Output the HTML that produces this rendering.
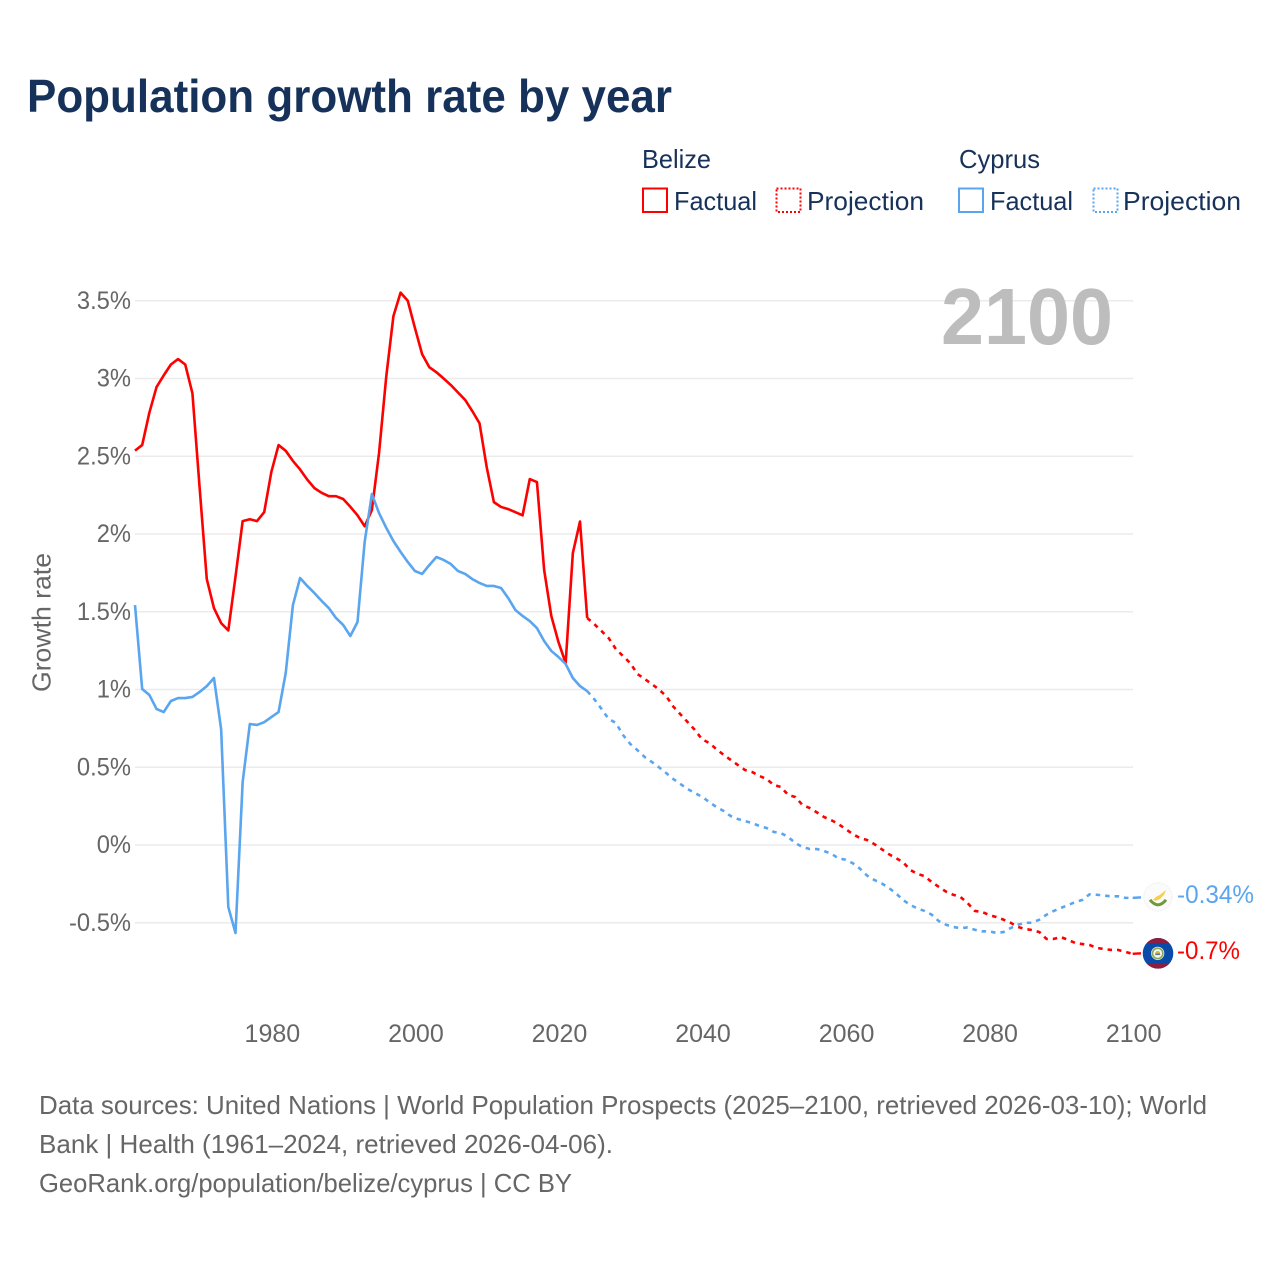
<!DOCTYPE html>
<html lang="en">
<head>
<meta charset="utf-8">
<title>Population growth rate by year</title>
<style>
html,body{margin:0;padding:0;background:#fff;}
svg{display:block;font-family:"Liberation Sans",Arial,sans-serif;}
</style>
</head>
<body>
<svg id="chart" xmlns="http://www.w3.org/2000/svg" width="1280" height="1280" viewBox="0 0 1280 1280">
  <rect x="0" y="0" width="1280" height="1280" fill="#ffffff"/>
  <text x="27" y="112" font-size="46" font-weight="700" fill="#17325a" textLength="645" lengthAdjust="spacingAndGlyphs">Population growth rate by year</text>

  <g font-size="26" fill="#17325a">
    <text x="642" y="168" textLength="69" lengthAdjust="spacingAndGlyphs">Belize</text>
    <text x="959" y="168" textLength="81" lengthAdjust="spacingAndGlyphs">Cyprus</text>
    <rect x="643" y="188.5" width="24" height="23.5" fill="none" stroke="#ff0000" stroke-width="2"/>
    <text x="674" y="210" textLength="83" lengthAdjust="spacingAndGlyphs">Factual</text>
    <rect x="776.5" y="188.5" width="24" height="23.5" fill="none" stroke="#ff0000" stroke-width="2" stroke-dasharray="2 2"/>
    <text x="807" y="210" textLength="117" lengthAdjust="spacingAndGlyphs">Projection</text>
    <rect x="959" y="188.5" width="24" height="23.5" fill="none" stroke="#5aa5ef" stroke-width="2"/>
    <text x="990" y="210" textLength="83" lengthAdjust="spacingAndGlyphs">Factual</text>
    <rect x="1093.5" y="188.5" width="24" height="23.5" fill="none" stroke="#5aa5ef" stroke-width="2" stroke-dasharray="2 2"/>
    <text x="1123" y="210" textLength="118" lengthAdjust="spacingAndGlyphs">Projection</text>
  </g>

  <text transform="translate(50.5,622.5) rotate(-90)" text-anchor="middle" font-size="26" fill="#666666" textLength="139" lengthAdjust="spacingAndGlyphs">Growth rate</text>

  <g id="grid"></g>
  <g id="yAxis" font-size="25" fill="#666666"></g>
  <g id="xAxis" font-size="25" fill="#666666"></g>

  <text x="941" y="344" font-size="80" font-weight="700" fill="#bdbdbd" textLength="172" lengthAdjust="spacingAndGlyphs">2100</text>

  <g id="series"></g>
  <g id="endMarks"></g>

  <g font-size="26" fill="#666666">
    <text x="39" y="1114" textLength="1168" lengthAdjust="spacingAndGlyphs">Data sources: United Nations | World Population Prospects (2025–2100, retrieved 2026-03-10); World</text>
    <text x="39" y="1153" textLength="574" lengthAdjust="spacingAndGlyphs">Bank | Health (1961–2024, retrieved 2026-04-06).</text>
    <text x="39" y="1192" textLength="533" lengthAdjust="spacingAndGlyphs">GeoRank.org/population/belize/cyprus | CC BY</text>
  </g>
</svg>
<script>
const factualStartYear = 1961;
const projectionStartYear = 2024;
const yTickValues = [-0.5, 0, 0.5, 1, 1.5, 2, 2.5, 3, 3.5];
const yTickLabels = ["-0.5%", "0%", "0.5%", "1%", "1.5%", "2%", "2.5%", "3%", "3.5%"];
const xTickValues = [1980, 2000, 2020, 2040, 2060, 2080, 2100];
const xTickLabels = ["1980", "2000", "2020", "2040", "2060", "2080", "2100"];
const belizeFactual = [2.536,2.572,2.78,2.945,3.02,3.09,3.125,3.09,2.905,2.30,1.71,1.524,1.427,1.38,1.725,2.083,2.095,2.083,2.14,2.40,2.572,2.535,2.47,2.415,2.35,2.295,2.265,2.243,2.243,2.225,2.175,2.12,2.05,2.154,2.52,3.01,3.40,3.552,3.50,3.325,3.157,3.073,3.04,3.0,2.958,2.91,2.862,2.79,2.712,2.43,2.205,2.174,2.16,2.14,2.12,2.353,2.334,1.77,1.473,1.305,1.17,1.877,2.08,1.46];
const cyprusFactual = [1.543,1.003,.965,.875,.855,.926,.945,.945,.952,.984,1.022,1.074,.745,-.399,-.566,.405,.778,.772,.79,.823,.855,1.106,1.543,1.717,1.666,1.62,1.57,1.524,1.46,1.415,1.344,1.434,1.95,2.257,2.135,2.04,1.955,1.885,1.82,1.762,1.743,1.80,1.852,1.833,1.807,1.762,1.743,1.71,1.685,1.666,1.666,1.653,1.588,1.511,1.473,1.44,1.395,1.312,1.248,1.209,1.164,1.074,1.022,.99];
const belizeProjection = [1.46,1.42,1.376,1.33,1.26,1.215,1.17,1.10,1.068,1.035,1.0,.958,.89,.84,.79,.74,.68,.656,.617,.58,.547,.514,.482,.469,.444,.424,.386,.373,.322,.309,.257,.238,.21,.18,.16,.135,.103,.07,.045,.032,.006,-.026,-.058,-.084,-.11,-.16,-.186,-.2,-.238,-.27,-.30,-.32,-.334,-.373,-.424,-.43,-.45,-.463,-.48,-.50,-.527,-.54,-.547,-.56,-.604,-.604,-.592,-.61,-.63,-.637,-.643,-.662,-.669,-.675,-.675,-.688,-.70];
const cyprusProjection = [.99,.937,.875,.81,.785,.707,.65,.61,.566,.534,.50,.463,.424,.392,.36,.334,.31,.277,.244,.219,.186,.167,.154,.141,.122,.109,.084,.077,.051,.013,-.013,-.026,-.026,-.039,-.056,-.085,-.095,-.117,-.152,-.197,-.225,-.246,-.275,-.31,-.353,-.385,-.408,-.424,-.448,-.49,-.513,-.527,-.535,-.53,-.545,-.555,-.555,-.565,-.56,-.534,-.513,-.50,-.50,-.48,-.448,-.424,-.405,-.386,-.367,-.353,-.317,-.32,-.325,-.33,-.33,-.34,-.34];
const belizeEndLabel = "-0.7%";
const cyprusEndLabel = "-0.34%";

const SVGNS = "http://www.w3.org/2000/svg";
function xScale(year) { return 135 + (year - 1961) * 7.1775; }
function yScale(value) { return 845 - value * 155.5; }
function make(tag, parent) {
  const el = document.createElementNS(SVGNS, tag);
  parent.appendChild(el);
  return el;
}
function linePath(values, startYear) {
  return values.map(function (v, i) {
    return (i ? "L" : "M") + xScale(startYear + i).toFixed(2) + " " + yScale(v).toFixed(2);
  }).join(" ");
}

const gridG = document.getElementById("grid");
const yAxisG = document.getElementById("yAxis");
const xAxisG = document.getElementById("xAxis");
const seriesG = document.getElementById("series");
const endG = document.getElementById("endMarks");

yTickValues.forEach(function (v, i) {
  const line = make("line", gridG);
  
  
  line.setAttribute("x1", 135);
  line.setAttribute("x2", 1133);
  line.setAttribute("y1", yScale(v));
  line.setAttribute("y2", yScale(v));
  line.setAttribute("stroke", "#ebebeb");
  line.setAttribute("stroke-width", "1.4");
  const label = make("text", yAxisG);
  
  
  label.setAttribute("x", 131);
  label.setAttribute("y", yScale(v) + 8);
  label.setAttribute("text-anchor", "end");
  label.textContent = yTickLabels[i];
  label.setAttribute("textLength", (label.getComputedTextLength() * 0.95).toFixed(1));
  label.setAttribute("lengthAdjust", "spacingAndGlyphs");
});

xTickValues.forEach(function (v, i) {
  const label = make("text", xAxisG);
  
  
  label.setAttribute("x", xScale(v) + 1);
  label.setAttribute("y", 1042);
  label.setAttribute("text-anchor", "middle");
  label.textContent = xTickLabels[i];
});

function drawSeries(name, values, startYear, color, dashed) {
  const p = make("path", seriesG);
  
  
  p.setAttribute("d", linePath(values, startYear));
  p.setAttribute("fill", "none");
  p.setAttribute("stroke", color);
  p.setAttribute("stroke-width", "2.6");
  p.setAttribute("stroke-linejoin", "round");
  if (dashed) {
    p.setAttribute("stroke-dasharray", "4.5 5");
  }
}
drawSeries("belize-factual-line", belizeFactual, factualStartYear, "#ff0000", false);
drawSeries("belize-projection-line", belizeProjection, projectionStartYear, "#ff0000", true);
drawSeries("cyprus-factual-line", cyprusFactual, factualStartYear, "#5aa5ef", false);
drawSeries("cyprus-projection-line", cyprusProjection, projectionStartYear, "#5aa5ef", true);

function drawLeader(name, value, color) {
  const l = make("line", endG);
  
  
  l.setAttribute("x1", xScale(2100));
  l.setAttribute("x2", 1141);
  l.setAttribute("y1", yScale(value));
  l.setAttribute("y2", yScale(value) - 0.5);
  l.setAttribute("stroke", color);
  l.setAttribute("stroke-width", "2.4");
}
function drawEndLabel(name, value, text, color) {
  const t = make("text", endG);
  
  
  t.setAttribute("x", 1177);
  t.setAttribute("y", yScale(value) + 5);
  t.setAttribute("font-size", "25");
  t.setAttribute("fill", color);
  t.textContent = text;
  t.setAttribute("textLength", (text.length === 6 ? 77 : 63));
  t.setAttribute("lengthAdjust", "spacingAndGlyphs");
}
const cyprusLast = cyprusProjection[cyprusProjection.length - 1];
const belizeLast = belizeProjection[belizeProjection.length - 1];
drawLeader("cyprus-end-leader", cyprusLast, "#5aa5ef");
drawLeader("belize-end-leader", belizeLast, "#ff0000");
drawEndLabel("cyprus-end-label", cyprusLast, cyprusEndLabel, "#5aa5ef");
drawEndLabel("belize-end-label", belizeLast, belizeEndLabel, "#ff0000");

const cyFlag = make("g", endG);


cyFlag.setAttribute("transform", "translate(1158," + (yScale(cyprusLast) - 1) + ")");
cyFlag.innerHTML =
  '<circle r="15" fill="#fbfbfb"/>' +
  '<circle r="14" fill="none" stroke="#f2f2f2" stroke-width="1.5" stroke-dasharray="1.5 1.5"/>' +
  '<path d="M-8 3 Q0 13 8 3" fill="none" stroke="#6f9a3a" stroke-width="3"/>' +
  '<path d="M-5 3 L-2 0 L2 -2 L8 -7 L6 -2 L2 2 L-2 4 Z" fill="#f5cf45"/>';

const bzFlag = make("g", endG);


bzFlag.setAttribute("transform", "translate(1158," + (yScale(belizeLast) - 0.5) + ")");
bzFlag.innerHTML =
  '<circle r="15.3" fill="#0a4aa8"/>' +
  '<path d="M-11.6 -10 A15.3 15.3 0 0 1 11.6 -10 Z" fill="#8f1d3f"/>' +
  '<path d="M-11.6 10 A15.3 15.3 0 0 0 11.6 10 Z" fill="#8f1d3f"/>' +
  '<circle cx="-0.3" r="6.6" fill="#f4f4ee"/>' +
  '<circle cx="-0.3" r="5.2" fill="none" stroke="#8aa85a" stroke-width="1.6"/>' +
  '<circle cx="-0.3" r="3.2" fill="#ffffff"/>' +
  '<path d="M-2.8 0 H2.2 V1.8 H-2.8 Z" fill="#5b7a9a"/>' +
  '<path d="M-2.8 0 A2.5 2.5 0 0 1 2.2 0 Z" fill="#d9b64a"/>';
</script>
</body>
</html>
